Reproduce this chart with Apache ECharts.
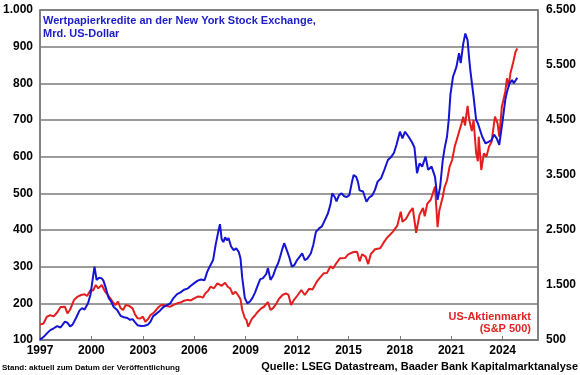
<!DOCTYPE html>
<html>
<head>
<meta charset="utf-8">
<script src="https://cdn.jsdelivr.net/npm/echarts@6/dist/echarts.min.js"></script>
<style>
html,body{margin:0;padding:0;background:#fff;}
#c{width:580px;height:375px;}
</style>
</head>
<body>
<div id="c"></div>
<script>
// ---- data ----
var leftTicks = [100, 200, 300, 400, 500, 600, 700, 800, 900, 1000];
var rightTicks = [500, 1500, 2500, 3500, 4500, 5500, 6500];
var yearTicks = [1997, 2000, 2003, 2006, 2009, 2012, 2015, 2018, 2021, 2024];

var marginDates = [1997.0,1997.2,1997.4,1997.6,1997.8,1998.0,1998.2,1998.45,1998.6,1998.75,1998.9,1999.1,1999.3,1999.45,1999.6,1999.8,1999.95,2000.1,2000.18,2000.3,2000.45,2000.6,2000.7,2000.85,2001.0,2001.15,2001.3,2001.5,2001.7,2001.9,2002.1,2002.25,2002.4,2002.55,2002.7,2002.9,2003.1,2003.3,2003.45,2003.6,2003.8,2004.0,2004.2,2004.4,2004.6,2004.8,2005.0,2005.2,2005.4,2005.6,2005.8,2006.0,2006.2,2006.4,2006.6,2006.75,2006.9,2007.1,2007.25,2007.4,2007.5,2007.6,2007.7,2007.8,2007.9,2008.0,2008.15,2008.3,2008.45,2008.6,2008.7,2008.8,2008.95,2009.1,2009.25,2009.4,2009.55,2009.7,2009.85,2010.0,2010.2,2010.3,2010.45,2010.6,2010.75,2010.9,2011.0,2011.15,2011.25,2011.4,2011.55,2011.7,2011.85,2012.0,2012.2,2012.3,2012.45,2012.6,2012.8,2012.95,2013.1,2013.3,2013.45,2013.6,2013.8,2013.95,2014.05,2014.2,2014.3,2014.45,2014.6,2014.75,2014.9,2015.05,2015.2,2015.3,2015.45,2015.55,2015.65,2015.85,2016.05,2016.2,2016.4,2016.55,2016.7,2016.9,2017.1,2017.3,2017.5,2017.65,2017.8,2018.0,2018.15,2018.3,2018.5,2018.7,2018.85,2019.0,2019.15,2019.3,2019.5,2019.65,2019.85,2020.05,2020.2,2020.35,2020.5,2020.6,2020.75,2020.85,2020.95,2021.1,2021.3,2021.45,2021.55,2021.7,2021.82,2021.95,2022.05,2022.12,2022.3,2022.45,2022.55,2022.65,2022.8,2023.0,2023.2,2023.35,2023.5,2023.65,2023.8,2024.0,2024.15,2024.25,2024.4,2024.55,2024.65,2024.85];
var marginDebt = [101,108,118,127,132,138,134,150,147,137,142,160,180,187,183,200,225,275,300,264,270,268,262,240,215,205,190,182,166,162,160,155,157,148,140,138,139,142,150,165,172,180,190,195,200,215,225,230,237,240,248,255,262,265,263,285,300,318,360,395,416,375,367,380,372,378,355,345,350,340,322,270,215,200,205,215,230,248,266,268,280,296,264,275,295,310,325,350,364,345,325,300,305,318,330,336,318,322,336,360,395,405,410,425,445,470,500,490,478,495,500,492,490,495,530,550,545,532,508,505,477,488,495,510,532,541,565,591,600,610,632,668,650,668,655,640,625,555,582,573,600,564,573,545,482,518,590,620,655,700,770,818,845,882,855,909,936,918,864,832,764,700,691,695,655,636,641,645,660,650,632,700,755,777,800,809,800,815];

var spxDates = [1997.0,1997.2,1997.4,1997.6,1997.8,1998.0,1998.2,1998.45,1998.6,1998.75,1998.98,1999.2,1999.4,1999.6,1999.75,1999.95,2000.1,2000.25,2000.4,2000.6,2000.8,2000.95,2001.1,2001.25,2001.4,2001.55,2001.7,2001.85,2002.0,2002.2,2002.4,2002.55,2002.7,2002.85,2003.0,2003.15,2003.3,2003.45,2003.65,2003.85,2004.05,2004.2,2004.4,2004.6,2004.8,2005.0,2005.2,2005.4,2005.6,2005.8,2006.0,2006.2,2006.35,2006.5,2006.65,2006.8,2006.95,2007.15,2007.35,2007.6,2007.8,2007.95,2008.1,2008.25,2008.4,2008.55,2008.7,2008.8,2008.95,2009.05,2009.15,2009.35,2009.55,2009.7,2009.9,2010.05,2010.3,2010.45,2010.6,2010.8,2010.95,2011.15,2011.35,2011.5,2011.65,2011.8,2012.0,2012.25,2012.45,2012.7,2012.9,2013.15,2013.35,2013.55,2013.75,2013.95,2014.1,2014.3,2014.5,2014.8,2015.0,2015.3,2015.5,2015.65,2015.8,2016.0,2016.15,2016.3,2016.55,2016.85,2017.05,2017.25,2017.6,2017.85,2018.05,2018.15,2018.35,2018.6,2018.75,2018.95,2019.15,2019.35,2019.45,2019.6,2019.8,2020.05,2020.2,2020.3,2020.5,2020.6,2020.75,2020.9,2021.05,2021.2,2021.4,2021.6,2021.7,2021.8,2021.95,2022.05,2022.2,2022.3,2022.45,2022.55,2022.6,2022.75,2022.9,2023.05,2023.2,2023.35,2023.55,2023.7,2023.8,2023.95,2024.15,2024.25,2024.35,2024.45,2024.6,2024.75,2024.85];
var spx = [780,800,924,950,930,1000,1100,1106,985,1050,1227,1290,1318,1330,1300,1409,1400,1500,1439,1500,1378,1320,1258,1190,1136,1197,1080,1045,1136,1120,1076,960,894,890,924,833,880,955,1000,1076,1130,1136,1120,1106,1140,1167,1180,1215,1230,1220,1258,1290,1288,1270,1349,1390,1470,1440,1530,1485,1542,1468,1439,1330,1380,1318,1240,1045,900,860,742,880,950,1010,1076,1100,1190,1045,1080,1167,1250,1318,1348,1320,1136,1220,1300,1409,1318,1430,1420,1560,1640,1712,1720,1840,1800,1900,1985,1990,2060,2100,2106,1930,2060,2015,1880,2060,2150,2167,2270,2360,2470,2580,2833,2650,2700,2840,2900,2450,2780,2900,2750,2980,3050,3290,2550,2850,3100,3270,3400,3650,3773,4015,4227,4439,4561,4400,4755,4500,4300,4500,3900,3750,4197,3591,3894,3833,4015,4106,4561,4439,4197,4742,5015,5258,5106,5348,5530,5742,5800];

function zip(a, b) { return a.map(function (d, i) { return [d, b[i]]; }); }
function fmtDE(v) { return String(v).replace(/\B(?=(\d{3})+(?!\d))/g, '.'); }

var chart = echarts.init(document.getElementById('c'), null, {renderer: 'canvas'});
var axisFont = {fontFamily: 'Arial, "Liberation Sans", sans-serif', fontWeight: 'bold', fontSize: 12, color: '#000'};
var gridLineColor = '#7a7a7a';

chart.setOption({
  animation: false,
  backgroundColor: '#fff',
  grid: {left: 39, right: 42, top: 10, bottom: 35, show: true, borderColor: gridLineColor, borderWidth: 1.5},
  xAxis: {
    type: 'value', min: yearTicks[0], max: 2026.06, interval: 3,
    axisLine: {show: true, lineStyle: {color: gridLineColor, width: 1.5}},
    axisTick: {show: true, length: 4, inside: true, lineStyle: {color: gridLineColor}},
    splitLine: {show: false},
    axisLabel: Object.assign({margin: 5, showMaxLabel: false, formatter: function (v) { return yearTicks.indexOf(v) >= 0 ? String(v) : ''; }}, axisFont)
  },
  yAxis: [{
    type: 'value', min: leftTicks[0], max: leftTicks[leftTicks.length - 1], interval: 100,
    axisLine: {show: true, lineStyle: {color: gridLineColor, width: 1.5}},
    axisTick: {show: false},
    splitLine: {show: true, lineStyle: {color: gridLineColor, width: 1.5}},
    axisLabel: Object.assign({margin: 7, formatter: fmtDE}, axisFont)
  }, {
    type: 'value', position: 'right', min: rightTicks[0], max: rightTicks[rightTicks.length - 1], interval: 1000,
    axisLine: {show: true, lineStyle: {color: gridLineColor, width: 1.5}},
    axisTick: {show: false},
    splitLine: {show: false},
    axisLabel: Object.assign({margin: 8, formatter: fmtDE}, axisFont)
  }],
  series: [{
    type: 'line', name: 'S&P 500', yAxisIndex: 1, data: zip(spxDates, spx),
    showSymbol: false, symbol: 'none', lineStyle: {color: '#e41e1e', width: 2}, z: 2
  }, {
    type: 'line', name: 'Margin', yAxisIndex: 0, data: zip(marginDates, marginDebt),
    showSymbol: false, symbol: 'none', lineStyle: {color: '#1414d2', width: 2}, z: 3
  }],
  graphic: [
    {type: 'text', x: 43, y: 14, z: 10, style: {text: 'Wertpapierkredite an der New York Stock Exchange,\nMrd. US-Dollar', fill: '#1c1cc8', font: 'bold 11px Arial, "Liberation Sans", sans-serif', lineHeight: 13}},
    {type: 'text', x: 531, y: 311, z: 10, style: {text: 'US-Aktienmarkt\n(S&P 500)', fill: '#e02424', font: 'bold 11px Arial, "Liberation Sans", sans-serif', lineHeight: 12, align: 'right'}},
    {type: 'text', x: 2, y: 364, z: 10, style: {text: 'Stand: aktuell zum Datum der Veröffentlichung', fill: '#000', font: 'bold 8px Arial, "Liberation Sans", sans-serif'}},
    {type: 'text', x: 578, y: 361, z: 10, style: {text: 'Quelle: LSEG Datastream, Baader Bank Kapitalmarktanalyse', fill: '#000', font: 'bold 11px Arial, "Liberation Sans", sans-serif', align: 'right'}}
  ]
});
</script>
</body>
</html>
